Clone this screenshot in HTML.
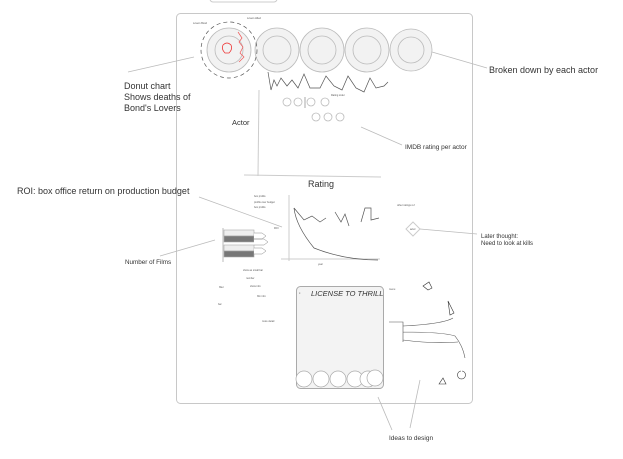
<!DOCTYPE html>
<html><head><style>
body{margin:0;background:#fff;}
svg{display:block;font-family:"Comic Sans MS","Liberation Sans",sans-serif;}
.t{font-size:9px;fill:#333;}
.s{font-size:2.5px;fill:#555;}
</style></head><body>
<svg width="623" height="459" viewBox="0 0 623 459" xmlns="http://www.w3.org/2000/svg">
<rect x="210" y="-8" width="67" height="10" rx="3" fill="none" stroke="#ccc"/>
<rect x="176.5" y="13.5" width="296" height="390" rx="4" fill="#fff" stroke="#c8c8c8"/>
<g fill="#f2f2f2" stroke="#bbb" stroke-width="0.8">
<circle cx="229" cy="50" r="22"/><circle cx="229" cy="50" r="14"/>
<circle cx="277" cy="50" r="22"/><circle cx="277" cy="50" r="14"/>
<circle cx="322" cy="50" r="22"/><circle cx="322" cy="50" r="14"/>
<circle cx="367" cy="50" r="22"/><circle cx="367" cy="50" r="14"/>
<circle cx="411" cy="50" r="21"/><circle cx="411" cy="50" r="13"/>
</g>
<circle cx="229" cy="50" r="28" fill="none" stroke="#555" stroke-width="0.7" stroke-dasharray="4 3"/>
<path d="M223 45 q4-4 8 0 q2 4-2 8 l-4 0 q-4-4-2-8z" fill="none" stroke="#e33" stroke-width="0.8"/>
<path d="M238 32 l4 6 -3 4 4 5 -3 6 4 4 -5 5" fill="none" stroke="#e55" stroke-width="0.7"/>
<path d="M268 72 l3 18 3-10 3 6 4-8 6 8 5-6 6 8 6-14 6 14 10 0 6-12 8 10 8 4 6-14 8 12 8 4 6-14 6 10 8-2 4-4" fill="none" stroke="#555" stroke-width="0.7"/>
<g fill="none" stroke="#bbb" stroke-width="0.8">
<circle cx="287" cy="102" r="4"/><circle cx="298" cy="102" r="4"/><circle cx="311" cy="102" r="4"/><circle cx="325" cy="102" r="4"/>
<circle cx="316" cy="117" r="4"/><circle cx="328" cy="117" r="4"/><circle cx="340" cy="117" r="4"/>
</g>
<line x1="305" y1="97" x2="305" y2="108" stroke="#aaa"/>
<text class="s" x="331" y="96">Rating order</text>
<text class="t" x="232" y="125" style="font-size:7.5px">Actor</text>
<line x1="259" y1="90" x2="258" y2="176" stroke="#ccc"/>
<line x1="244" y1="175" x2="381" y2="177" stroke="#ccc"/>
<text class="t" x="308" y="187">Rating</text>
<line x1="289" y1="195" x2="289" y2="261" stroke="#ccc"/>
<line x1="281" y1="259" x2="380" y2="259" stroke="#ccc"/>
<path d="M294 208 q2 18 20 40 q30 12 64 12" fill="none" stroke="#555" stroke-width="0.7"/>
<path d="M294 208 l10 12 8-4 8 6 6-4 M335 212 l6 10 4-8 4 12 M361 222 l4-14 6 0 0 12 8-2" fill="none" stroke="#555" stroke-width="0.7"/>
<g stroke="#aaa" stroke-width="0.6">
<rect x="224" y="230" width="30" height="6" fill="#eee"/><rect x="224" y="236" width="30" height="6" fill="#777"/>
<rect x="224" y="245" width="30" height="6" fill="#eee"/><rect x="224" y="251" width="30" height="6" fill="#777"/>
</g>
<path d="M254 233 l8 0 4 3 -4 3 -8 0 M254 239 l10 0 4 3 -4 3 -10 0 M254 248 l8 0 4 3 -4 3 -8 0" fill="#fff" stroke="#888" stroke-width="0.5"/>
<line x1="223" y1="228" x2="223" y2="262" stroke="#bbb"/>
<path d="M413 222 l7 7 -7 7 -7-7z" fill="#fff" stroke="#ccc"/>
<rect x="296.5" y="286.5" width="87" height="102" rx="4" fill="#f3f3f3" stroke="#aaa"/>
<text x="311" y="296" style="font-size:7.5px;font-style:italic" fill="#333">LICENSE TO THRILL</text>
<text class="s" x="299" y="294">≡</text>
<g fill="#fff" stroke="#aaa" stroke-width="0.7">
<circle cx="304" cy="379" r="8"/><circle cx="321" cy="379" r="8"/><circle cx="338" cy="379" r="8"/><circle cx="355" cy="379" r="8"/><circle cx="368" cy="379" r="8"/><circle cx="375" cy="378" r="8"/>
</g>
<path d="M389 322 l14 0 0 20 M403 326 q40-2 50-8 M403 332 q40 0 52 4 q8 10 10 22 M403 340 q30 4 55 2" fill="none" stroke="#555" stroke-width="0.6"/>
<path d="M423 286 l6-4 3 6 -4 2z M448 301 l6 12 -4 2z M439 384 l4-6 3 6z M461 371 a4 4 0 1 0 1 0" fill="none" stroke="#333" stroke-width="0.6"/>
<g stroke="#bbb" stroke-width="0.8">
<line x1="128" y1="72" x2="194" y2="57"/><line x1="432" y1="52" x2="487" y2="68"/>
<line x1="361" y1="127" x2="402" y2="145"/><line x1="199" y1="197" x2="282" y2="227"/>
<line x1="160" y1="256" x2="215" y2="240"/><line x1="420" y1="229" x2="477" y2="234"/>
<line x1="378" y1="397" x2="392" y2="430"/><line x1="420" y1="380" x2="410" y2="428"/>
</g>
<text class="t" x="124" y="89">Donut chart</text>
<text class="t" x="124" y="100">Shows deaths of</text>
<text class="t" x="124" y="111">Bond's Lovers</text>
<text class="t" x="489" y="73">Broken down by each actor</text>
<text class="t" x="405" y="149" style="font-size:6.5px">IMDB rating per actor</text>
<text class="t" x="17" y="194">ROI: box office return on production budget</text>
<text class="t" x="125" y="264" style="font-size:6.3px">Number of Films</text>
<text class="t" x="481" y="238" style="font-size:6px">Later thought:</text>
<text class="t" x="481" y="245" style="font-size:6px">Need to look at kills</text>
<text class="t" x="389" y="440" style="font-size:6.5px">Ideas to design</text>
<text class="s" x="193" y="24">Lovers Bond</text>
<text class="s" x="247" y="19">Lovers killed</text>
<text class="s" x="254" y="197">box profits</text>
<text class="s" x="254" y="203">profits over budget</text>
<text class="s" x="254" y="208">box profits</text>
<text class="s" x="274" y="229">ROI</text>
<text class="s" x="397" y="206">other ratings ref</text>
<text class="s" x="410" y="230">actor</text>
<text class="s" x="318" y="265">year</text>
<text class="s" x="243" y="271">show as small bar</text>
<text class="s" x="246" y="279">number</text>
<text class="s" x="250" y="287">show info</text>
<text class="s" x="219" y="288">filter</text>
<text class="s" x="257" y="297">film info</text>
<text class="s" x="218" y="305">bar</text>
<text class="s" x="262" y="322">more detail</text>
<text class="s" x="389" y="290">menu</text>
</svg>
</body></html>
